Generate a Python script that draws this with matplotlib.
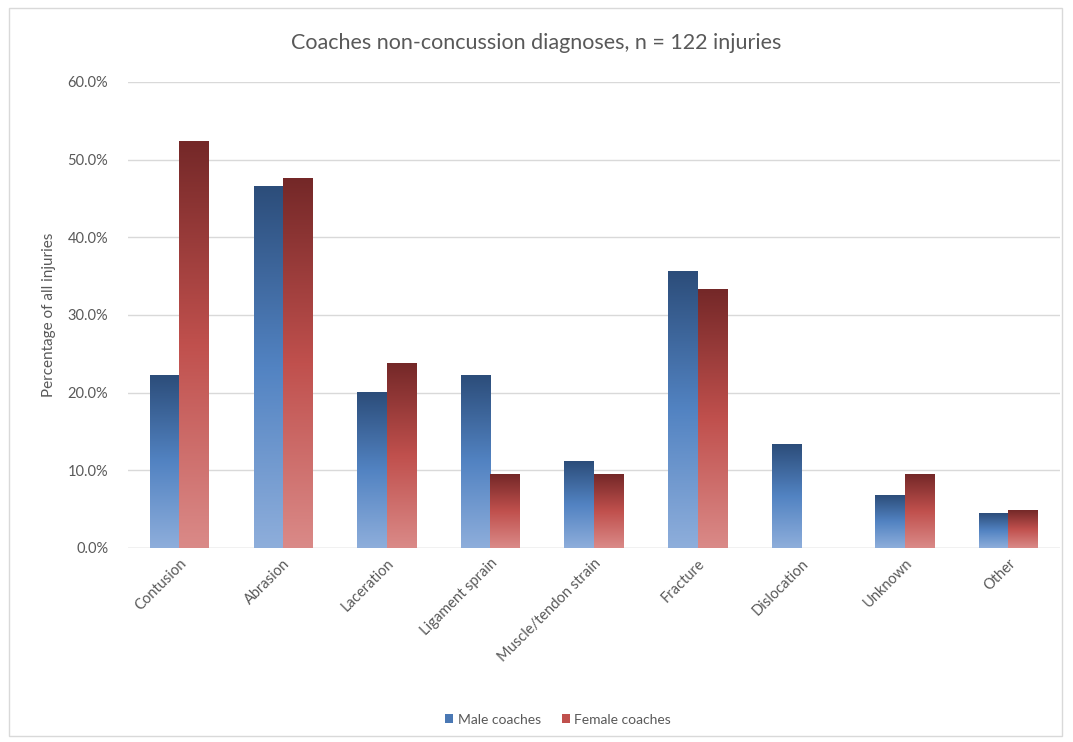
import matplotlib
matplotlib.use("Agg")
import matplotlib.pyplot as plt
import numpy as np
from matplotlib.colors import LinearSegmentedColormap
from matplotlib.patches import Rectangle, Patch

categories = ["Contusion", "Abrasion", "Laceration", "Ligament sprain",
              "Muscle/tendon strain", "Fracture", "Dislocation", "Unknown", "Other"]
male = [22.2, 46.6, 20.0, 22.2, 11.1, 35.6, 13.3, 6.7, 4.4]
female = [52.4, 47.6, 23.8, 9.5, 9.5, 33.3, 0.0, 9.5, 4.8]
yticks = [0, 10, 20, 30, 40, 50, 60]

plt.rcParams['font.family'] = ['Lato', 'DejaVu Sans']

# bottom -> top gradients for each series
male_cmap = LinearSegmentedColormap.from_list("m", ["#8eaedb", "#5283c2", "#2c4d7a"])
female_cmap = LinearSegmentedColormap.from_list("f", ["#da8a88", "#c0504d", "#742828"])

fig = plt.figure(figsize=(10.73, 7.42), dpi=100)
ax = fig.add_axes([0.119, 0.2615, 0.869, 0.628])

x = np.arange(len(categories))
w = 0.285
grad = np.linspace(0, 1, 256).reshape(-1, 1)

def gradient_bars(xs, vals, cmap):
    for xi, v in zip(xs, vals):
        if v <= 0:
            continue
        ax.imshow(grad, cmap=cmap, origin="lower", aspect="auto",
                  extent=[xi, xi + w, 0, v], zorder=2, interpolation="bicubic")

gradient_bars(x - w, male, male_cmap)
gradient_bars(x, female, female_cmap)

ax.set_xlim(-0.5, len(categories) - 0.5)
ax.set_ylim(0, 60)
ax.set_yticks(yticks)
ax.set_yticklabels([f"{t:.1f}%" for t in yticks])
ax.set_xticks(x)
ax.set_xticklabels(categories, rotation=45, ha="right", rotation_mode="anchor")
ax.tick_params(colors="#595959", labelsize=10.5, length=0)
ax.tick_params(axis="y", pad=14)
ax.tick_params(axis="x", pad=6)
ax.yaxis.grid(True, color="#d9d9d9", linewidth=1)
ax.set_axisbelow(True)
for s in ax.spines.values():
    s.set_visible(False)
ax.axhline(0, color="#d9d9d9", linewidth=1, zorder=1)

ax.set_ylabel("Percentage of all injuries", color="#595959", fontsize=11, labelpad=8)
fig.text(0.5, 0.942, "Coaches non-concussion diagnoses, n = 122 injuries",
         ha="center", va="center", fontsize=15.5, color="#595959")

handles = [Patch(facecolor="#4a78b4", label="Male coaches"),
           Patch(facecolor="#c0504d", label="Female coaches")]
fig.legend(handles=handles, loc="center", bbox_to_anchor=(0.52, 0.03), ncol=2,
           frameon=False, fontsize=10, labelcolor="#595959",
           handlelength=0.6, handleheight=0.6, handletextpad=0.3, columnspacing=1.5)

fig.patches.append(Rectangle((0.008, 0.008), 0.982, 0.981, transform=fig.transFigure,
                             fill=False, edgecolor="#d9d9d9", linewidth=1))

fig.savefig("out.png", dpi=100)
